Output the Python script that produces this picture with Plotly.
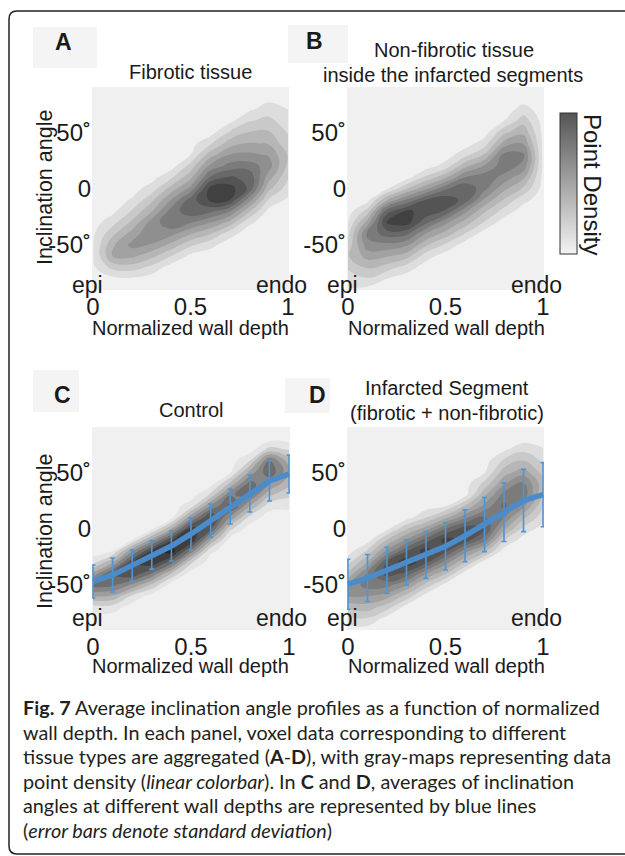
import numpy as np
import plotly.graph_objects as go

W, H = 625, 856

# grid of the density maps: wall depth (columns) x inclination angle (rows)
DEPTH = [0.0, 0.1, 0.2, 0.3, 0.4, 0.5, 0.6, 0.7, 0.8, 0.9, 1.0]
ANGLE = [-90, -80, -70, -60, -50, -40, -30, -20, -10, 0, 10, 20, 30, 40, 50, 60, 70, 80, 90]

# point density level per depth column (values from -90 to 90 degrees)
FIBROTIC = [
    [0, 0, 0.3, 0.4, 0.4, 0.3, 0, 0, 0, 0, 0, 0, 0, 0, 0, 0, 0, 0, 0],
    [0, 0.2, 1.8, 3.5, 3.3, 2.2, 1.1, 0.2, 0, 0, 0, 0, 0, 0, 0, 0, 0, 0, 0],
    [0, 0.3, 2.0, 3.7, 4.8, 3.9, 2.7, 1.6, 0.6, 0.1, 0, 0, 0, 0, 0, 0, 0, 0, 0],
    [0, 0, 1.2, 2.8, 4.4, 5.4, 4.9, 3.4, 2.2, 0.9, 0.1, 0, 0, 0, 0, 0, 0, 0, 0],
    [0, 0, 0, 1.5, 3.2, 4.9, 6.3, 5.9, 4.5, 2.9, 1.3, 0, 0, 0, 0, 0, 0, 0, 0],
    [0, 0, 0, 0.2, 1.7, 3.6, 5.6, 7.2, 7.0, 4.8, 3.2, 1.9, 0.5, 0.1, 0, 0, 0, 0, 0],
    [0, 0, 0, 0, 0.8, 2.6, 4.6, 6.8, 8.7, 8.8, 6.6, 4.7, 3.0, 1.3, 0, 0, 0, 0, 0],
    [0, 0, 0, 0, 0, 0.9, 3.2, 5.6, 8.6, 9.0, 7.6, 5.9, 4.5, 3.0, 1.6, 0.2, 0, 0, 0],
    [0, 0, 0, 0, 0, 0, 0.7, 2.7, 5.0, 7.3, 7.3, 6.0, 4.7, 3.6, 2.5, 1.4, 0.3, 0, 0],
    [0, 0, 0, 0, 0, 0, 0, 0.2, 1.4, 2.8, 4.0, 5.0, 4.4, 3.4, 2.6, 1.8, 1.0, 0.2, 0],
    [0, 0, 0, 0, 0, 0, 0, 0, 0.3, 1.0, 1.6, 2.2, 2.4, 1.8, 1.4, 0.9, 0.5, 0.1, 0],
]
NONFIBROTIC = [
    [0.4, 0.9, 1.7, 2.4, 1.8, 1.2, 0.5, 0, 0, 0, 0, 0, 0, 0, 0, 0, 0, 0, 0],
    [0.1, 1.4, 2.6, 3.9, 5.1, 5.8, 3.9, 1.9, 0.1, 0, 0, 0, 0, 0, 0, 0, 0, 0, 0],
    [0, 0.5, 2.0, 3.6, 5.2, 7.0, 8.7, 7.0, 3.4, 0.3, 0, 0, 0, 0, 0, 0, 0, 0, 0],
    [0, 0, 1.0, 2.9, 4.7, 6.8, 9.0, 8.6, 5.6, 2.4, 0, 0, 0, 0, 0, 0, 0, 0, 0],
    [0, 0, 0, 0.9, 2.7, 4.5, 6.8, 8.3, 7.5, 4.2, 1.7, 0, 0, 0, 0, 0, 0, 0, 0],
    [0, 0, 0, 0, 1.3, 3.1, 4.8, 7.4, 8.1, 6.3, 3.3, 0.9, 0, 0, 0, 0, 0, 0, 0],
    [0, 0, 0, 0, 0, 1.5, 3.1, 4.8, 7.2, 7.4, 5.5, 3.2, 1.1, 0, 0, 0, 0, 0, 0],
    [0, 0, 0, 0, 0, 0, 1.4, 2.7, 4.3, 5.8, 6.1, 4.6, 2.6, 1.0, 0, 0, 0, 0, 0],
    [0, 0, 0, 0, 0, 0, 0, 1.1, 2.4, 3.8, 5.2, 6.1, 5.8, 3.9, 2.2, 0.5, 0, 0, 0],
    [0, 0, 0, 0, 0, 0, 0, 0, 0.8, 2.3, 3.7, 5.2, 5.7, 4.4, 3.2, 2.1, 0.9, 0, 0],
    [0, 0, 0, 0, 0, 0, 0, 0, 0, 0.1, 0.2, 0.3, 0.3, 0.3, 0.2, 0.1, 0, 0, 0],
]
CONTROL = [
    [0, 0, 1.0, 3.5, 6.0, 3.8, 1.1, 0, 0, 0, 0, 0, 0, 0, 0, 0, 0, 0, 0],
    [0, 0, 1.0, 3.3, 5.8, 6.6, 3.4, 0.5, 0, 0, 0, 0, 0, 0, 0, 0, 0, 0, 0],
    [0, 0, 0, 1.3, 4.3, 7.4, 7.4, 4.3, 0.5, 0, 0, 0, 0, 0, 0, 0, 0, 0, 0],
    [0, 0, 0, 0, 2.3, 5.4, 8.4, 7.8, 3.8, 0.2, 0, 0, 0, 0, 0, 0, 0, 0, 0],
    [0, 0, 0, 0, 0, 2.4, 6.0, 9.2, 7.4, 3.4, 0, 0, 0, 0, 0, 0, 0, 0, 0],
    [0, 0, 0, 0, 0, 0, 1.7, 5.2, 8.6, 7.8, 4.2, 1.0, 0, 0, 0, 0, 0, 0, 0],
    [0, 0, 0, 0, 0, 0, 0, 0.7, 3.6, 6.8, 7.6, 4.6, 1.7, 0, 0, 0, 0, 0, 0],
    [0, 0, 0, 0, 0, 0, 0, 0, 0, 1.8, 4.4, 6.8, 5.4, 2.7, 0.3, 0, 0, 0, 0],
    [0, 0, 0, 0, 0, 0, 0, 0, 0, 0, 1.2, 3.5, 5.8, 5.9, 3.8, 1.5, 0, 0, 0],
    [0, 0, 0, 0, 0, 0, 0, 0, 0, 0, 0, 0.9, 2.7, 4.6, 6.3, 5.6, 1.9, 0, 0],
    [0, 0, 0, 0, 0, 0, 0, 0, 0, 0, 0, 0.8, 1.8, 2.8, 3.8, 3.0, 1.4, 0, 0],
]
INFARCT = [
    [0, 1.2, 2.7, 4.6, 4.6, 2.7, 1.2, 0, 0, 0, 0, 0, 0, 0, 0, 0, 0, 0, 0],
    [0, 1.4, 3.0, 4.5, 6.0, 5.7, 3.5, 1.7, 0, 0, 0, 0, 0, 0, 0, 0, 0, 0, 0],
    [0, 0, 1.9, 3.9, 5.9, 8.0, 7.6, 4.7, 2.5, 0.2, 0, 0, 0, 0, 0, 0, 0, 0, 0],
    [0, 0, 0, 2.1, 4.5, 7.2, 9.2, 7.4, 4.6, 2.3, 0, 0, 0, 0, 0, 0, 0, 0, 0],
    [0, 0, 0, 0, 2.1, 4.6, 7.8, 9.0, 7.0, 3.9, 1.4, 0, 0, 0, 0, 0, 0, 0, 0],
    [0, 0, 0, 0, 0.1, 2.6, 5.0, 7.9, 8.9, 6.4, 3.1, 0.4, 0, 0, 0, 0, 0, 0, 0],
    [0, 0, 0, 0, 0, 0, 2.5, 5.0, 8.2, 8.0, 5.2, 2.6, 0.1, 0, 0, 0, 0, 0, 0],
    [0, 0, 0, 0, 0, 0, 0, 2.8, 6.0, 7.7, 6.6, 4.8, 3.3, 1.8, 0.4, 0, 0, 0, 0],
    [0, 0, 0, 0, 0, 0, 0, 0, 1.6, 3.8, 5.6, 6.8, 5.9, 4.3, 3.0, 1.7, 0.3, 0, 0],
    [0, 0, 0, 0, 0, 0, 0, 0, 0, 1.2, 2.8, 4.7, 6.2, 5.6, 4.0, 2.6, 1.2, 0, 0],
    [0, 0, 0, 0, 0, 0, 0, 0, 0, 0.1, 0.9, 1.6, 2.4, 2.9, 2.1, 1.3, 0.6, 0, 0],
]

# mean inclination angle and standard deviation per depth bin (panels C and D)
BIN_DEPTH = [0.0, 0.1, 0.2, 0.3, 0.4, 0.5, 0.6, 0.7, 0.8, 0.9, 1.0]
CONTROL_MEAN = [-47, -41.2, -32.7, -23.5, -15.5, -4.8, 7.1, 19.5, 31, 42.1, 48.3]
CONTROL_STD = [14.6, 15.1, 13.7, 12.5, 13.3, 14.2, 14.6, 15.5, 16.4, 17.7, 16.8]
INFARCT_MEAN = [-49.4, -43.9, -37, -30, -23.5, -15.8, -6.5, 3.5, 14.5, 24.8, 30]
INFARCT_STD = [22.2, 20.8, 20.4, 20, 20.7, 21, 23, 24, 26, 27.6, 28.4]

X_TICKS = [0, 0.5, 1]
X_TICK_TEXT = ["0", "0.5", "1"]
Y_TICKS = [-50, 0, 50]
Y_TICK_TEXT = ["-50˚", "0", "50˚"]

CAPTION = [
    "<b>Fig. 7</b> Average inclination angle profiles as a function of normalized",
    "wall depth. In each panel, voxel data corresponding to different",
    "tissue types are aggregated (<b>A</b>-<b>D</b>), with gray-maps representing data",
    "point density (<i>linear colorbar</i>). In <b>C</b> and <b>D</b>, averages of inclination",
    "angles at different wall depths are represented by blue lines",
    "(<i>error bars denote standard deviation</i>)",
]

GRAYS = [[0, "#f0f0f0"], [1, "#1a1a1a"]]
BLUE = "#4a8ccb"
TXT = "#1a1a1a"
FONT = "Liberation Sans, Arial, sans-serif"


def px(v):
    return v / W


def py(v):
    return 1 - v / H


fig = go.Figure()

# density, darkness scale, axis suffix, plot box in pixels
panels = [
    (FIBROTIC, 14.0, "", 92, 289, 87, 290),
    (NONFIBROTIC, 13.4, "2", 347, 544, 87, 290),
    (CONTROL, 10.2, "3", 92, 290, 427, 630),
    (INFARCT, 11.3, "4", 347, 544, 427, 630),
]

for cols, zmax, n, x0, x1, y0, y1 in panels:
    z = np.array(cols).T
    fig.add_trace(go.Contour(
        x=DEPTH, y=ANGLE, z=z, xaxis="x" + n, yaxis="y" + n,
        zmin=0, zmax=zmax, colorscale=GRAYS, showscale=False,
        contours=dict(start=0.5, end=10.5, size=1, coloring="fill", showlines=False),
        line=dict(width=0, smoothing=1.3), hoverinfo="skip",
    ))
    fig.update_layout(**{
        "xaxis" + n: dict(domain=[px(x0), px(x1)], anchor="y" + n, range=[-0.005, 1.005],
                          tickvals=X_TICKS, ticktext=X_TICK_TEXT, ticks="",
                          showgrid=False, zeroline=False, showline=False,
                          tickfont=dict(size=24, color=TXT)),
        "yaxis" + n: dict(domain=[py(y1), py(y0)], anchor="x" + n, range=[-90, 90],
                          tickvals=Y_TICKS, ticktext=Y_TICK_TEXT, ticks="",
                          showgrid=False, zeroline=False, showline=False,
                          tickfont=dict(size=24, color=TXT)),
    })

for n, mean, std in [("3", CONTROL_MEAN, CONTROL_STD), ("4", INFARCT_MEAN, INFARCT_STD)]:
    fig.add_trace(go.Scatter(
        x=BIN_DEPTH, y=mean, xaxis="x" + n, yaxis="y" + n, mode="markers",
        marker=dict(size=1, color="rgba(0,0,0,0)"),
        error_y=dict(type="data", array=std, color="#5095d4", thickness=1.6, width=2.5),
        cliponaxis=False, hoverinfo="skip",
    ))
    fig.add_trace(go.Scatter(
        x=BIN_DEPTH, y=mean, xaxis="x" + n, yaxis="y" + n, mode="lines",
        line=dict(color=BLUE, width=5.5), hoverinfo="skip",
    ))

# colorbar for point density
fig.add_trace(go.Scatter(
    x=[None], y=[None], xaxis="x2", yaxis="y2", mode="markers",
    marker=dict(color=[0, 1], cmin=0, cmax=1,
                colorscale=[[0, "#f3f3f3"], [1, "#555555"]], showscale=True,
                colorbar=dict(x=px(560), xanchor="left", y=py(113), yanchor="top",
                              lenmode="pixels", len=141, thicknessmode="pixels", thickness=17,
                              xpad=0, ypad=0, outlinecolor="#333333", outlinewidth=1,
                              showticklabels=False, ticks="")),
    hoverinfo="skip", showlegend=False,
))

shapes = []
ann = []

# rounded frame, cut off at the right edge
shapes.append(dict(
    type="path", xref="paper", yref="paper",
    path=f"M {px(660)},{py(11)} L {px(17)},{py(11)} Q {px(9)},{py(11)} {px(9)},{py(19)} "
         f"L {px(9)},{py(846)} Q {px(9)},{py(854)} {px(17)},{py(854)} L {px(660)},{py(854)}",
    line=dict(color="#222222", width=1.5),
))

# panel letters on light boxes
for bx0, bx1, by0, by1 in [(33, 97, 27, 68), (288, 348, 25, 63), (33, 79, 370, 412), (285, 330, 378, 413)]:
    shapes.append(dict(type="rect", xref="paper", yref="paper", layer="below",
                       x0=px(bx0), x1=px(bx1), y0=py(by1), y1=py(by0),
                       fillcolor="#f4f4f4", line=dict(width=0)))
for letter, lx, ly in [("A", 63, 42), ("B", 314, 41), ("C", 62, 395), ("D", 317, 395)]:
    ann.append(dict(text=f"<b>{letter}</b>", x=px(lx), y=py(ly), font=dict(size=23)))

# panel titles
for text, tx, ty in [("Fibrotic tissue", 190, 72),
                     ("Non-fibrotic tissue", 454, 50),
                     ("inside the infarcted segments", 453, 75),
                     ("Control", 191, 410),
                     ("Infarcted Segment", 447, 388),
                     ("(fibrotic + non-fibrotic)", 447, 413)]:
    ann.append(dict(text=text, x=px(tx), y=py(ty), font=dict(size=20)))

# axis words
for ex, endx, base in [(87, 281, 285), (342, 536, 285), (87, 281, 618), (342, 536, 618)]:
    ann.append(dict(text="epi", x=px(ex), y=py(base), font=dict(size=23)))
    ann.append(dict(text="endo", x=px(endx), y=py(base), font=dict(size=23)))
for cx, cy in [(190, 328), (446, 328), (190, 666), (446, 666)]:
    ann.append(dict(text="Normalized wall depth", x=px(cx), y=py(cy), font=dict(size=20)))
for cy in [188, 532]:
    ann.append(dict(text="Inclination angle", x=px(45), y=py(cy), textangle=-90, font=dict(size=21.5)))

ann.append(dict(text="Point Density", x=px(593), y=py(184), textangle=90, font=dict(size=24)))

for i, line in enumerate(CAPTION):
    ann.append(dict(text=line, x=px(21), y=py(707 + 24.6 * i), xanchor="left",
                    font=dict(family="Lato, Noto Sans, sans-serif", size=19.8, color="#231f20")))

for a in ann:
    a.setdefault("xref", "paper")
    a.setdefault("yref", "paper")
    a.setdefault("showarrow", False)
    a.setdefault("xanchor", "center")
    a.setdefault("yanchor", "middle")
    a["font"].setdefault("color", TXT)

fig.update_layout(
    width=W, height=H,
    margin=dict(l=0, r=0, t=0, b=0, autoexpand=False),
    paper_bgcolor="white", plot_bgcolor="#f0f0f0",
    font=dict(family=FONT, color=TXT),
    showlegend=False,
    shapes=shapes, annotations=ann,
)

# the page's default body margin would push the figure 8px right and down
fig.write_html("out.html", config={"displayModeBar": False},
               post_script="document.body.style.margin='0';")
